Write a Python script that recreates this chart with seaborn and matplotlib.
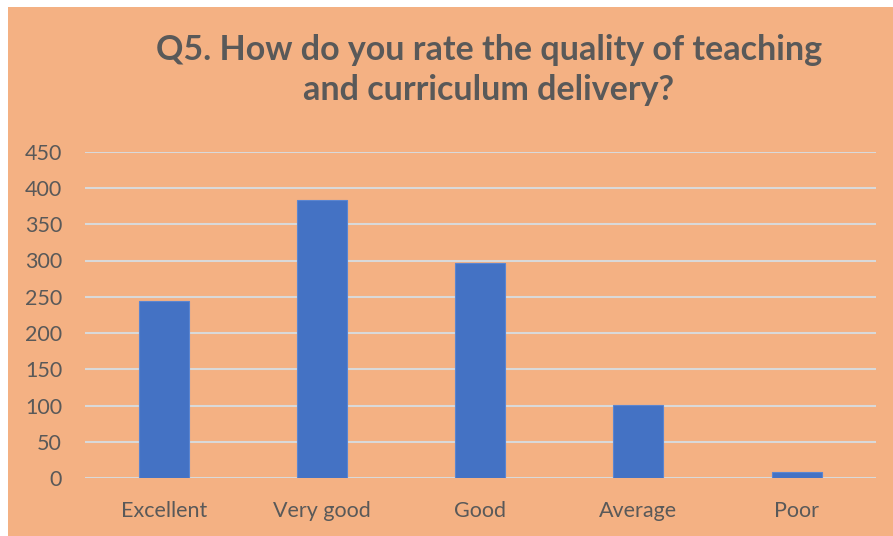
import matplotlib.pyplot as plt
import seaborn as sns
import pandas as pd
from matplotlib.patches import Rectangle

categories = ['Excellent', 'Very good', 'Good', 'Average', 'Poor']
counts = [244, 383, 297, 101, 9]
yticks = [0, 50, 100, 150, 200, 250, 300, 350, 400, 450]

df = pd.DataFrame({'rating': categories, 'count': counts})

sns.set_style('white')
plt.rcParams['font.family'] = ['Lato', 'DejaVu Sans']

W, H = 893, 536
fig = plt.figure(figsize=(W / 100, H / 100), dpi=100)
fig.patch.set_facecolor('white')
bg = '#F4B183'
# orange chart area, leaving a thin white margin top/left like the screenshot
fig.patches.append(Rectangle((8 / W, 0), 1, 1 - 7 / H, transform=fig.transFigure,
                             facecolor=bg, edgecolor='none', zorder=-10))

ax = fig.add_axes([85 / W, 57.7 / H, (875.6 - 85) / W, (478.3 - 151.6) / H])
ax.set_facecolor('none')
sns.barplot(data=df, x='rating', y='count', color='#4472C4', width=0.316,
            saturation=1, edgecolor='#5B85D0', linewidth=0.8, ax=ax, zorder=3)

ax.set_ylim(0, 450)
ax.set_yticks(yticks)
ax.set_xlim(-0.5, 4.5)
ax.grid(axis='y', color='#D9D9D9', lw=1.5, zorder=0)
ax.set_axisbelow(True)
for s in ax.spines.values():
    s.set_visible(False)
ax.tick_params(axis='y', length=0, pad=16.5, labelsize=15.5, labelcolor='#595959')
ax.tick_params(axis='x', length=0, pad=16, labelsize=15.5, labelcolor='#595959')
ax.set_xlabel('')
ax.set_ylabel('')

fig.text(489 / W, 1 - 70 / H, 'Q5. How do you rate the quality of teaching\nand curriculum delivery?',
         ha='center', va='center', fontsize=24.5, fontweight='bold', color='#595959',
         linespacing=1.33)

fig.savefig('out.png', dpi=100, facecolor=fig.get_facecolor())
